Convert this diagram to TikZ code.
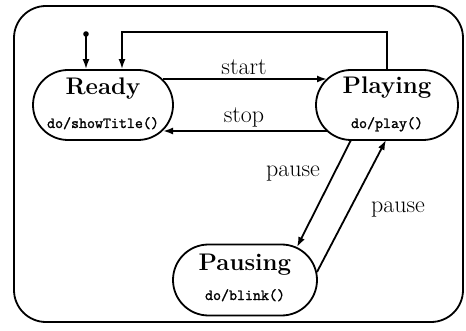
\documentclass[tikz,border=0pt]{standalone}
\usepackage{fontspec}
\newfontfamily\dottfont[FakeBold=1.6]{Latin Modern Mono}
\newfontfamily\titlefamily[FakeBold=0.6]{Latin Modern Roman Demi}
\usetikzlibrary{arrows.meta,calc,shapes.misc}
\begin{document}
\begin{tikzpicture}[x=1pt,y=-1pt,
  line width=1.8pt,
  statebox/.style={draw,rounded rectangle,minimum width=140pt,minimum height=70pt,inner sep=0pt},
  titletext/.style={anchor=base,font=\fontsize{24}{28}\selectfont\bfseries},
  dotext/.style={anchor=base,font=\fontsize{15.5}{18}\selectfont\dottfont},
  lbl/.style={anchor=base,font=\fontsize{24}{28}\selectfont},
  arr/.style={-{Latex[length=10pt,width=7pt]}}]
\useasboundingbox (0,0) rectangle (466,331);
\draw[rounded corners=32pt] (14,6) rectangle (463,322);
% states
\node[statebox] (ready) at (103,105) {};
\node[statebox,minimum width=142pt] (playing) at (387,105) {};
\node[statebox,minimum width=144pt,minimum height=71pt] (pausing) at (245,280) {};
\node[titletext] (readyT) at (103,95) {Ready};
\node[dotext] (readyD) at (103,128) {do/showTitle()};
\node[titletext] (playingT) at (387,94) {Playing};
\node[dotext] (playingD) at (387,128) {do/play()};
\node[titletext] (pausingT) at (245,270) {Pausing};
\node[dotext] (pausingD) at (245,300) {do/blink()};
% initial
\fill (86,34) circle (2.8pt) coordinate (init);
\draw[arr] (init) -- (init |- ready.north);
% self loop from Playing back to Ready
\coordinate (loopR) at ($(playing.north)+(0,-37)$);
\coordinate (readyIn) at ($(ready.north)+(19,0)$);
\draw[arr] (playing.north) -- (loopR) -| (readyIn);
% start
\coordinate (s1) at ($(ready.center)+(60,-26)$);
\coordinate (s2) at ($(playing.center)+(-60,-26)$);
\draw[arr] (s1) -- (s2);
\node[lbl] (startL) at (244,75) {start};
% stop
\coordinate (t1) at ($(playing.center)+(-60,26)$);
\coordinate (t2) at ($(ready.center)+(60,26)$);
\draw[arr] (t1) -- (t2);
\node[lbl] (stopL) at (244,123) {stop};
% pause 1
\coordinate (p1) at ($(playing.center)+(-36,35)$);
\coordinate (p2) at ($(pausing.center)+(52,-33)$);
\draw[arr] (p1) -- (p2);
\node[lbl] (pause1L) at (293,177) {pause};
% pause 2
\coordinate (q1) at ($(pausing.center)+(72,-8)$);
\coordinate (q2) at ($(playing.center)+(-1,35)$);
\draw[arr] (q1) -- (q2);
\node[lbl] (pause2L) at (398,213) {pause};
\end{tikzpicture}
\end{document}
